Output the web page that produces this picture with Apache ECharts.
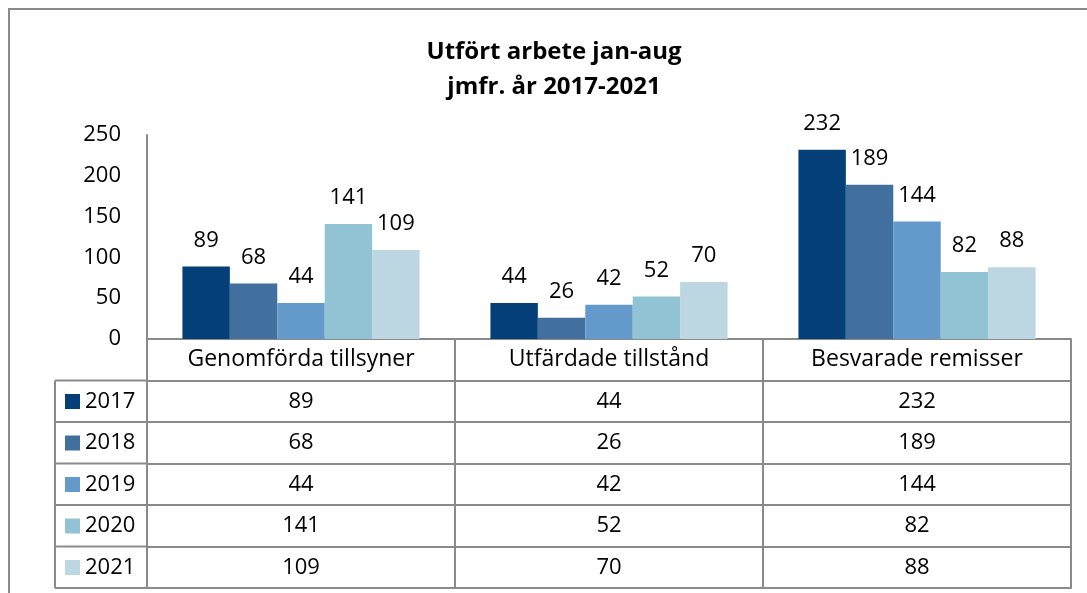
<!DOCTYPE html>
<html>
<head>
<meta charset="utf-8">
<script src="https://cdn.jsdelivr.net/npm/echarts@6/dist/echarts.min.js"></script>
<style>
  html, body { margin: 0; padding: 0; background: #fff; }
  #chart { width: 1087px; height: 593px; }
</style>
</head>
<body>
<div id="chart"></div>
<script>
var categories = ['Genomförda tillsyner', 'Utfärdade tillstånd', 'Besvarade remisser']
var years = ['2017', '2018', '2019', '2020', '2021']
var v2017 = [89, 44, 232]
var v2018 = [68, 26, 189]
var v2019 = [44, 42, 144]
var v2020 = [141, 52, 82]
var v2021 = [109, 70, 88]
var yTicks = [0, 50, 100, 150, 200, 250]

var values = [v2017, v2018, v2019, v2020, v2021]
var colors = ['#043F77', '#41709E', '#6399CB', '#92C3D5', '#BCD6E2']
var font = '"Open Sans", "Noto Sans", sans-serif'
var lineColor = '#8a8a8a'
var fs = 22

var chart = echarts.init(document.getElementById('chart'))

// layout of the plot / data table
var gridLeft = 147
var gridRight = 1071
var gridTop = 135
var zeroY = 339
var rowH = 41.5
var legendLeft = 55

var xAxes = []
// row 0: categories, rows 1..5: values per year, last: bottom border
for (var r = 0; r <= years.length + 1; r++) {
  var isLast = r === years.length + 1
  xAxes.push({
    type: 'category',
    gridIndex: 0,
    position: 'bottom',
    offset: r * rowH,
    data: r === 0 || isLast ? categories : values[r - 1].map(String),
    axisLine: { show: true, lineStyle: { color: lineColor, width: 2 } },
    axisTick: {
      show: !isLast,
      length: rowH,
      lineStyle: { color: lineColor, width: 2 }
    },
    axisLabel: {
      show: !isLast,
      interval: 0,
      margin: rowH / 2,
      verticalAlign: 'middle',
      color: '#000',
      fontFamily: font,
      fontSize: r === 0 ? 23 : fs
    },
    splitLine: { show: false }
  })
}

var graphics = [
  // outer chart border
  {
    type: 'rect',
    shape: { x: 9, y: 9, width: 1100, height: 620 },
    style: { fill: 'none', stroke: lineColor, lineWidth: 2 },
    silent: true
  },
  {
    type: 'line',
    shape: { x1: legendLeft, y1: zeroY + rowH, x2: legendLeft, y2: zeroY + rowH * (years.length + 1) },
    style: { stroke: lineColor, lineWidth: 2 },
    silent: true
  }
]
for (var k = 1; k <= years.length + 1; k++) {
  graphics.push({
    type: 'line',
    shape: { x1: legendLeft, y1: zeroY + rowH * k, x2: gridLeft, y2: zeroY + rowH * k },
    style: { stroke: lineColor, lineWidth: 2 },
    silent: true
  })
}

chart.setOption({
  animation: false,
  title: {
    text: 'Utfört arbete jan-aug\njmfr. år 2017-2021',
    left: 549,
    top: 30,
    textAlign: 'center',
    textStyle: {
      fontFamily: font,
      fontWeight: 'bold',
      fontSize: 24,
      lineHeight: 35,
      color: '#000'
    }
  },
  legend: {
    orient: 'vertical',
    left: 65,
    top: zeroY + rowH + 10,
    padding: 0,
    icon: 'rect',
    itemWidth: 15,
    itemHeight: 15,
    itemGap: rowH - 22,
    data: years,
    selectedMode: false,
    textStyle: { fontFamily: font, fontSize: fs, lineHeight: 22, color: '#000' }
  },
  grid: {
    left: gridLeft,
    right: 1087 - gridRight,
    top: gridTop,
    bottom: 593 - zeroY,
    containLabel: false
  },
  xAxis: xAxes,
  yAxis: {
    type: 'value',
    min: yTicks[0],
    max: yTicks[yTicks.length - 1],
    interval: 50,
    axisLine: { show: true, lineStyle: { color: lineColor, width: 2 } },
    axisTick: { show: false },
    splitLine: { show: false },
    axisLabel: { margin: 26, color: '#000', fontFamily: font, fontSize: fs }
  },
  graphic: graphics,
  series: years.map(function (y, i) {
    return {
      name: y,
      type: 'bar',
      xAxisIndex: 0,
      data: values[i],
      barGap: '0%',
      barCategoryGap: '23%',
      itemStyle: { color: colors[i] },
      label: {
        show: true,
        position: 'top',
        distance: 15,
        color: '#000',
        fontFamily: font,
        fontSize: fs
      }
    }
  })
})
</script>
</body>
</html>
